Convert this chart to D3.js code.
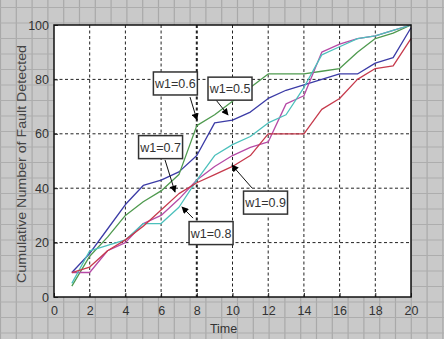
<!DOCTYPE html>
<html><head><meta charset="utf-8">
<script src="https://cdn.jsdelivr.net/npm/d3@7"></script>
<style>body{margin:0;background:#c8c8c8;}svg{display:block}</style>
</head><body>
<svg id="chart" width="444" height="339"></svg>
<script>
// ---- data ----
const times = [1,2,3,4,5,6,7,8,9,10,11,12,13,14,15,16,17,18,19,20];
const w05 = [9,16,25,34,41,43,46,52,64,65,68,73,76,78,80,82,82,86,88,99];
const w06 = [4,15,22,30,35,39,45,63,67,72,77,82,82,82,83,84,90,95,97,100];
const w07 = [9,9,17,20,27,30,36,43,48,52,55,57,71,74,90,93,95,96,98,100];
const w08 = [5,17,19,21,27,27,33,43,52,56,59,64,67,77,89,92,95,96,98,100];
const w09 = [9,11,17,21,26,32,38,42,45,48,52,60,60,60,69,73,80,84,85,95];
const seriesNames = ["w1=0.5","w1=0.6","w1=0.7","w1=0.8","w1=0.9"];
const seriesValues = [w05,w06,w07,w08,w09];
const xTicks = [0,2,4,6,8,10,12,14,16,18,20];
const yTicks = [0,20,40,60,80,100];
const xLabel = "Time";
const yLabel = "Cumulative Number of Fault Detected";
// annotation: label, box centre (data), arrow tail (data), arrow tip (data)
const annLabels = ["w1=0.6","w1=0.5","w1=0.7","w1=0.9","w1=0.8"];
const annBox  = [[6.8,78.5],[9.86,76.6],[5.97,55.1],[11.85,34.7],[8.8,23.5]];
const annTail = [[7.62,73.5],[9.08,72.4],[6.22,50.4],[11.09,40.1],[7.79,29.0]];
const annTip  = [[8.01,65.1],[9.75,66.9],[6.78,38.6],[9.97,48.5],[7.17,33.1]];

// ---- styles ----
const colors = {"w1=0.5":"#3b3ba6","w1=0.6":"#4f9a4f","w1=0.7":"#b64aa6","w1=0.8":"#4cc0bc","w1=0.9":"#c63a4c"};
const W = 444, H = 339;
const M = {left:54, right:411, top:25, bottom:297};

const svg = d3.select("#chart");

// graph-paper background
const bg = svg.append("g");
bg.append("rect").attr("width",W).attr("height",H).attr("fill","#c9c9c9");
const vStep = 15.8, hStep = 15.5;
bg.selectAll("line.v").data(d3.range(0, W, vStep)).join("line")
  .attr("x1",d=>d+0.5).attr("x2",d=>d+0.5).attr("y1",0).attr("y2",H)
  .attr("stroke","#a9a9a9").attr("stroke-width",1.2);
bg.selectAll("line.h").data(d3.range(7, H, hStep)).join("line")
  .attr("y1",d=>d+0.5).attr("y2",d=>d+0.5).attr("x1",0).attr("x2",W)
  .attr("stroke","#adadad").attr("stroke-width",1.2);

const x = d3.scaleLinear().domain([0,20]).range([M.left, M.right]);
const y = d3.scaleLinear().domain([0,100]).range([M.bottom, M.top]);

// plot area
svg.append("rect").attr("x",M.left).attr("y",M.top)
  .attr("width",M.right-M.left).attr("height",M.bottom-M.top).attr("fill","#fff");

// grid
const grid = svg.append("g");
grid.selectAll("line.gx").data(xTicks.filter(d=>d>0&&d<20)).join("line")
  .attr("x1",d=>x(d)).attr("x2",d=>x(d)).attr("y1",M.top).attr("y2",M.bottom)
  .attr("stroke","#222").attr("stroke-width",d=>d===8?2:1).attr("stroke-dasharray","3,2.5");
grid.selectAll("line.gy").data(yTicks.filter(d=>d>0&&d<100)).join("line")
  .attr("y1",d=>y(d)).attr("y2",d=>y(d)).attr("x1",M.left).attr("x2",M.right)
  .attr("stroke","#222").attr("stroke-width",1).attr("stroke-dasharray","3,2.5");

// series lines
const line = d3.line().x((d,i)=>x(times[i])).y(d=>y(d));
svg.append("g").selectAll("path").data(seriesNames).join("path")
  .attr("d",(n,i)=>line(seriesValues[i]))
  .attr("fill","none").attr("stroke",n=>colors[n]).attr("stroke-width",1.3)
  .attr("stroke-linejoin","round");

// axes
const fontFam = "'Liberation Sans Narrow','Liberation Sans',Arial,sans-serif";
const xAxis = svg.append("g").attr("transform",`translate(0,${M.bottom})`)
  .call(d3.axisBottom(x).tickValues(xTicks).tickSize(-4).tickPadding(9).tickSizeOuter(0));
const yAxis = svg.append("g").attr("transform",`translate(${M.left},0)`)
  .call(d3.axisLeft(y).tickValues(yTicks).tickSize(-4).tickPadding(5).tickSizeOuter(0));
[xAxis,yAxis].forEach(a=>{
  a.select(".domain").remove();
  a.selectAll(".tick line").attr("stroke","#222");
  a.selectAll(".tick text").attr("font-family",fontFam).attr("font-size",12.5).attr("fill","#333");
});

// frame
svg.append("rect").attr("x",M.left).attr("y",M.top)
  .attr("width",M.right-M.left).attr("height",M.bottom-M.top)
  .attr("fill","none").attr("stroke","#111").attr("stroke-width",1.5);

// axis titles
svg.append("text").attr("x",(x(9)+x(10))/2).attr("y",333).attr("text-anchor","middle")
  .attr("font-family",fontFam).attr("font-size",12.5).attr("fill","#333").text(xLabel);
svg.append("text").attr("transform",`translate(26,164) rotate(-90)`).attr("text-anchor","middle")
  .attr("font-family","'Liberation Sans',Arial,sans-serif").attr("font-size",12.5).attr("fill","#444")
  .attr("textLength",238).attr("lengthAdjust","spacingAndGlyphs").text(yLabel);

// annotations
const defs = svg.append("defs");
defs.append("marker").attr("id","ah").attr("viewBox","0 0 10 10").attr("refX",9).attr("refY",5)
  .attr("markerWidth",9).attr("markerHeight",7).attr("orient","auto").attr("markerUnits","userSpaceOnUse")
  .append("path").attr("d","M0,0 L10,5 L0,10 z").attr("fill","#000");
const ann = svg.append("g");
annLabels.forEach((lab,i)=>{
  ann.append("line").attr("x1",x(annTail[i][0])).attr("y1",y(annTail[i][1]))
    .attr("x2",x(annTip[i][0])).attr("y2",y(annTip[i][1]))
    .attr("stroke","#111").attr("stroke-width",1).attr("marker-end","url(#ah)");
});
annLabels.forEach((lab,i)=>{
  const cx = x(annBox[i][0]), cy = y(annBox[i][1]);
  const bw = 44, bh = 23;
  ann.append("rect").attr("x",cx-bw/2).attr("y",cy-bh/2).attr("width",bw).attr("height",bh)
    .attr("fill","#fff").attr("stroke","#333").attr("stroke-width",1.5);
  ann.append("text").attr("x",cx).attr("y",cy+4.5).attr("text-anchor","middle")
    .attr("font-family",fontFam).attr("font-size",12.5).attr("fill","#333").text(lab);
});
</script>
</body></html>
